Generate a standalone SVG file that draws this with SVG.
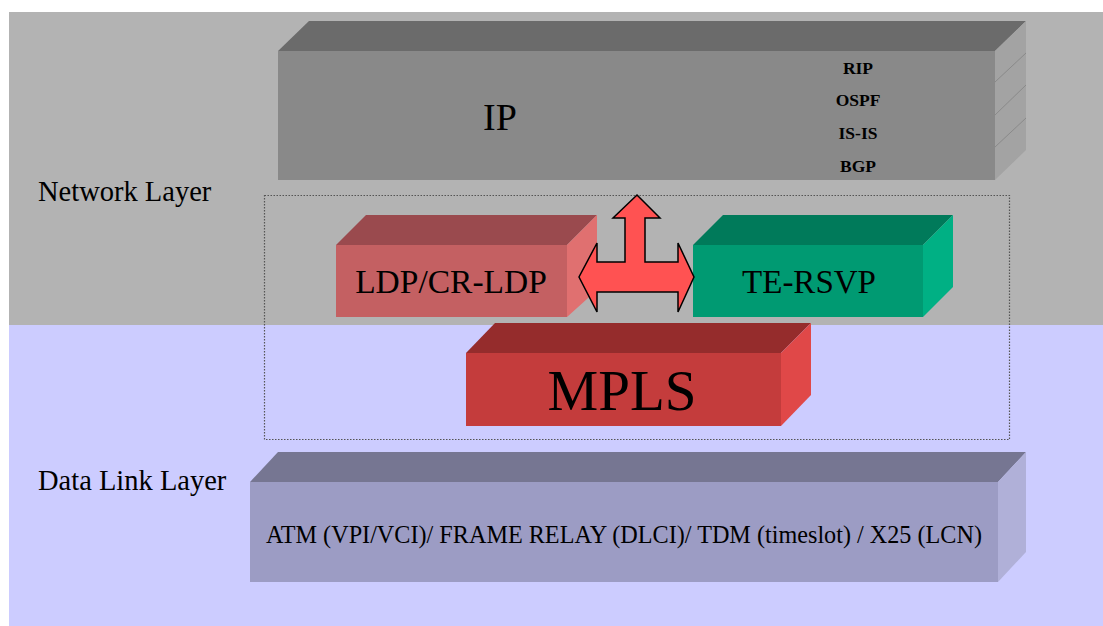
<svg xmlns="http://www.w3.org/2000/svg" width="1103" height="626" viewBox="0 0 1103 626">
<style>
text{font-family:"Liberation Serif","Times New Roman",serif;fill:#000}
.lbl{font-size:28.5px}
.mid{text-anchor:middle}
.proto{font-size:17.5px;font-weight:bold;text-anchor:middle}
</style>
<rect x="0" y="0" width="1103" height="626" fill="#ffffff"/>
<rect x="9" y="12" width="1094" height="313" fill="#b3b3b3"/>
<rect x="9" y="325" width="1094" height="301" fill="#ccccff"/>
<text class="lbl" x="38" y="201">Network Layer</text>
<text class="lbl" x="38" y="490">Data Link Layer</text>
<rect x="264.5" y="195.5" width="745" height="244" fill="none" stroke="#555" stroke-width="1.2" stroke-dasharray="1.5 1.5"/>
<g id="ip">
<polygon points="278,51 309,21 1026,21 995,51" fill="#6b6b6b"/>
<rect x="278" y="51" width="717" height="129" fill="#898989"/>
<polygon points="995,51 1026,21 1026,150 995,180" fill="#a3a3a3"/>
<g stroke="#8a8a8a" stroke-width="1"><line x1="995" y1="82" x2="1026" y2="53"/><line x1="995" y1="115" x2="1026" y2="85"/><line x1="995" y1="147" x2="1026" y2="118"/></g>
<text class="mid" x="500" y="130" font-size="38">IP</text>
<text class="proto" x="858" y="74">RIP</text>
<text class="proto" x="858" y="106">OSPF</text>
<text class="proto" x="858" y="139">IS-IS</text>
<text class="proto" x="858" y="172">BGP</text>
</g>
<g id="ldp">
<polygon points="336,245 366,215 597,215 567,245" fill="#9a4a4e"/>
<rect x="336" y="245" width="231" height="72" fill="#c46062"/>
<polygon points="567,245 597,215 597,290 567,317" fill="#e07070"/>
<text class="mid" x="451" y="293" font-size="33.5">LDP/CR-LDP</text>
</g>
<g id="te-rsvp">
<polygon points="693,245 723,215 953,215 923,245" fill="#007a5a"/>
<rect x="693" y="245" width="230" height="72" fill="#009a72"/>
<polygon points="923,245 953,215 953,287 923,317" fill="#00b084"/>
<text class="mid" x="809" y="293" font-size="33">TE-RSVP</text>
</g>
<g id="connectors">
<polygon points="637,195 660,218 645,218 645,262 678,262 678,243 694,277 678,312 678,292 597,292 597,312 579,277 597,243 597,262 625,262 625,218 613,218" fill="#ff5252" stroke="#000" stroke-width="1.5" stroke-linejoin="miter"/>
</g>
<g id="mpls">
<polygon points="466,353 495,323 811,323 781,353" fill="#952c2c"/>
<rect x="466" y="353" width="315" height="73" fill="#c43c3c"/>
<polygon points="781,353 811,323 811,395 781,426" fill="#e04848"/>
<text class="mid" x="622" y="410" font-size="57">MPLS</text>
</g>
<g id="datalink">
<polygon points="250,482 278,452 1026,452 998,482" fill="#767692"/>
<rect x="250" y="482" width="748" height="100" fill="#9c9cc4"/>
<polygon points="998,482 1026,452 1026,552 998,582" fill="#b0b0d8"/>
<text class="mid" x="624" y="543" font-size="24.2">ATM (VPI/VCI)/ FRAME RELAY (DLCI)/ TDM (timeslot) / X25 (LCN)</text>
</g>
</svg>
